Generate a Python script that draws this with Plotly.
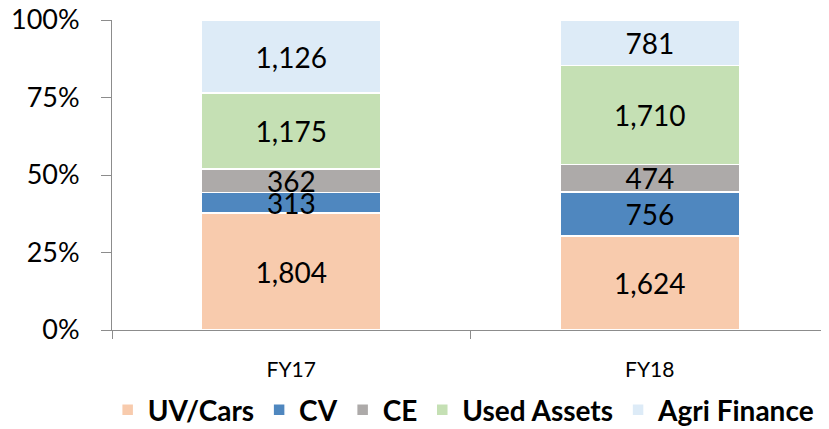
import plotly.graph_objects as go

categories = ["FY17", "FY18"]
series_names = ["UV/Cars", "CV", "CE", "Used Assets", "Agri Finance"]
uv_cars = [1804, 1624]
cv = [313, 756]
ce = [362, 474]
used_assets = [1175, 1710]
agri_finance = [1126, 781]
y_tick_labels = ["0%", "25%", "50%", "75%", "100%"]
y_tick_values = [0, 25, 50, 75, 100]

colors = ["#F8CBAD", "#4F87BF", "#ADAAA9", "#C5E0B4", "#DDEBF7"]
series_values = [uv_cars, cv, ce, used_assets, agri_finance]

FONT = "Lato"
xpos = list(range(len(categories)))

fig = go.Figure()
for name, vals, col in zip(series_names, series_values, colors):
    fig.add_trace(go.Bar(
        x=xpos, y=vals, name=name,
        marker=dict(color=col, line=dict(color="white", width=1.5)),
        text=[f"{v:,}" for v in vals],
        textposition="inside", insidetextanchor="middle", textangle=0,
        textfont=dict(family=FONT, size=28, color="black"),
        width=0.5,
    ))

left = -0.5
right = 1.5
fig.update_layout(
    barmode="stack", barnorm="percent",
    width=821, height=421,
    margin=dict(l=104, r=0, t=12, b=99, autoexpand=False),
    plot_bgcolor="white", paper_bgcolor="white",
    uniformtext=dict(minsize=28, mode="show"),
    showlegend=True,
    legend=dict(orientation="h", xref="container", x=0.555, xanchor="center",
                yref="container", y=0.045, yanchor="middle",
                font=dict(family=FONT, size=28, color="black", weight="bold"),
                traceorder="normal", tracegroupgap=0),
    font=dict(family=FONT, color="black"),
)
fig.update_yaxes(range=[0, 100], tickvals=y_tick_values, ticktext=y_tick_labels,
                 showgrid=False, showline=True, linecolor="#8c8c8c", linewidth=1,
                 ticks="outside", ticklen=10, tickcolor="#8c8c8c",
                 ticklabelstandoff=16, automargin=False, ticklabeloverflow="allow",
                 tickfont=dict(family=FONT, size=27, color="black"))
fig.update_xaxes(range=[left, right], tickvals=xpos, ticktext=categories,
                 showgrid=False, showline=True, linecolor="#8c8c8c", linewidth=1,
                 ticks="", ticklabelstandoff=21, automargin=False,
                 tickfont=dict(family=FONT, size=21, color="black"),
                 minor=dict(tickmode="array", tickvals=[left, 0.5], ticks="outside",
                            ticklen=8, tickcolor="#8c8c8c", showgrid=False))
fig.write_html("out.html")
